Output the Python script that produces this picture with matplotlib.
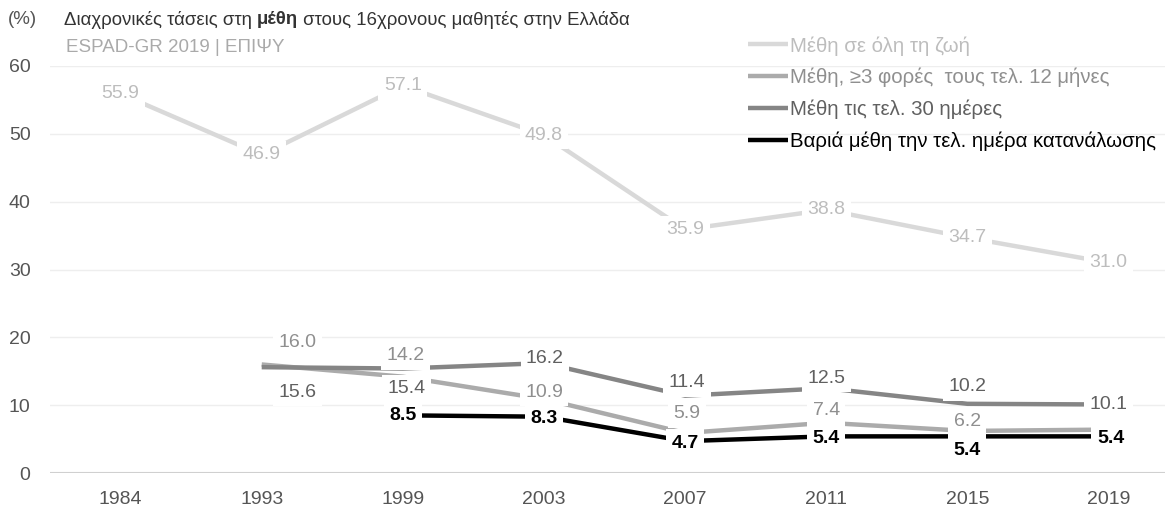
import numpy as np
import matplotlib
matplotlib.use('Agg')
import matplotlib.pyplot as plt

plt.rcParams['font.family'] = ['Liberation Sans', 'DejaVu Sans']

# ---------------- data ----------------
years = ['1984', '1993', '1999', '2003', '2007', '2011', '2015', '2019']
lifetime = [55.9, 46.9, 57.1, 49.8, 35.9, 38.8, 34.7, 31.0]
past12 = [np.nan, 16.0, 14.2, 10.9, 5.9, 7.4, 6.2, 6.4]
past30 = [np.nan, 15.6, 15.4, 16.2, 11.4, 12.5, 10.2, 10.1]
binge = [np.nan, np.nan, 8.5, 8.3, 4.7, 5.4, 5.4, 5.4]
series_names = ['Μέθη σε όλη τη ζωή',
                'Μέθη, ≥3 φορές  τους τελ. 12 μήνες',
                'Μέθη τις τελ. 30 ημέρες',
                'Βαριά μέθη την τελ. ημέρα κατανάλωσης']
yticks = [0, 10, 20, 30, 40, 50, 60]

# ---------------- style ----------------
line_colors = ['#d9d9d9', '#ababab', '#858585', '#000000']
label_colors = ['#bdbdbd', '#8f8f8f', '#606060', '#000000']
label_weights = ['normal', 'normal', 'normal', 'bold']
# label offsets in pixels (dx, dy); None = no label
offsets = [
    [(0, 0)] * 8,
    [None, (36, 22), (3, 21), (0, 7), (2, 19), (0, 12), (0, 9), None],
    [None, (36, -25), (4, -20), (1, 5), (2, 13), (0, 10), (0, 17), (0, 0)],
    [None, None, (0, 0), (0, -2), (0, -2), (0, -2), (0, -14), (2, -2)],
]

W, H = 1165, 512
fig = plt.figure(figsize=(W / 100, H / 100), dpi=100)
ax = fig.add_axes([50 / W, 39 / H, 1115 / W, 407 / H])
x = np.arange(len(years))

all_series = [lifetime, past12, past30, binge]
handles = []
for i, s in enumerate(all_series):
    ln, = ax.plot(x, s, color=line_colors[i], lw=3.2, solid_capstyle='butt',
                  zorder=2 + i, clip_on=False, label=series_names[i])
    handles.append(ln)

for i, s in enumerate(all_series):
    for j, v in enumerate(s):
        off = offsets[i][j]
        if off is None or np.isnan(v):
            continue
        ax.annotate(f'{v:.1f}', (x[j], v), xytext=off, textcoords='offset pixels',
                    ha='center', va='center', fontsize=14, color=label_colors[i],
                    fontweight=label_weights[i], zorder=10 + i,
                    bbox=dict(boxstyle='square,pad=0.28', fc='white', ec='none'),
                    annotation_clip=False)

ax.set_xlim(-0.5, 7.4)
ax.set_ylim(0, 60)
ax.set_xticks(x)
ax.set_xticklabels(years)
ax.set_yticks(yticks)
ax.tick_params(axis='both', length=0, labelsize=14, colors='#555555')
ax.tick_params(axis='y', pad=14)
ax.tick_params(axis='x', pad=13)
ax.yaxis.grid(True, color='#eeeeee', lw=1)
ax.set_axisbelow(True)
ax.axhline(0, color='#d0d0d0', lw=1.5, zorder=1)
for sp in ax.spines.values():
    sp.set_visible(False)

leg = ax.legend(handles=handles, loc='upper left',
                bbox_to_anchor=(748 / W, 1 - 36 / H), bbox_transform=fig.transFigure,
                frameon=False, fontsize=14.7, handlelength=1.95, handletextpad=0.1,
                labelspacing=0.6, borderpad=0, borderaxespad=0)
for t, c in zip(leg.get_texts(), label_colors):
    t.set_color(c)
for lh in leg.get_lines():
    lh.set_linewidth(3.2)

# title
fig.text(8 / W, 1 - 20 / H, '(%)', fontsize=13.5, color='#555555', va='center')
parts = [('Διαχρονικές τάσεις στη ', 'normal'), ('μέθη', 'bold'),
         (' στους 16χρονους μαθητές στην Ελλάδα', 'normal')]
fig.canvas.draw()
r = fig.canvas.get_renderer()
xpos = 64
for txt, wt in parts:
    t = fig.text(xpos / W, 1 - 20 / H, txt, fontsize=13.4, color='#333333',
                 fontweight=wt, va='center')
    bb = t.get_window_extent(renderer=r)
    xpos += bb.width
fig.text(66 / W, 1 - 48 / H, 'ESPAD-GR 2019 | ΕΠΙΨΥ', fontsize=13.5,
         color='#aaaaaa', va='center')

fig.savefig('out.png', dpi=100)
